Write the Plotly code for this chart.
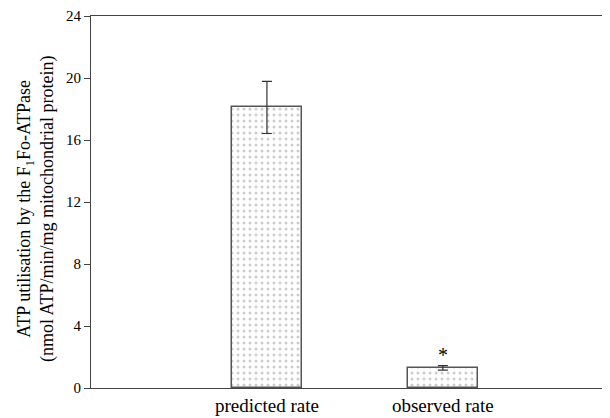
import plotly.graph_objects as go

categories = ["predicted rate", "observed rate"]
positions = [1, 2]
values = [18.1, 1.3]
errors = [1.68, 0.15]
y_ticks = [0, 4, 8, 12, 16, 20, 24]

fig = go.Figure()
fig.add_trace(go.Bar(
    x=positions, y=values, width=0.4,
    marker=dict(color="white",
                line=dict(color="#555555", width=1.5),
                pattern=dict(shape=".", fgcolor="#999999", bgcolor="white", size=6, solidity=0.2)),
    error_y=dict(type="data", array=errors, visible=True, color="#333333", thickness=1.2, width=5),
    showlegend=False,
))

fig.add_annotation(x=2, y=values[1] + errors[1], yshift=-2, text="*", showarrow=False,
                   yanchor="bottom", font=dict(size=20, color="black", family="Liberation Serif"))

fig.add_annotation(xref="paper", yref="paper", x=-0.106, y=0.481, xanchor="center", yanchor="middle",
                   textangle=-90, showarrow=False,
                   text="ATP utilisation by the F<sub>1</sub>Fo-ATPase<br>(nmol ATP/min/mg mitochondrial protein)",
                   font=dict(size=18, color="black", family="Liberation Serif"))

# page body has an 8px margin, so the figure is sized/offset to compensate
fig.update_layout(
    width=602, height=410,
    margin=dict(l=83, r=0, t=8, b=30),
    plot_bgcolor="white", paper_bgcolor="white",
    font=dict(family="Liberation Serif", size=15, color="black"),
    bargap=0,
)
fig.update_xaxes(range=[0, 2.95], tickvals=positions, ticktext=categories, automargin=False,
                 showline=True, linecolor="#444444", linewidth=1, mirror=True,
                 showgrid=False, zeroline=False, ticks="", tickfont=dict(size=19))
fig.update_yaxes(range=[0, 24], tickvals=y_ticks, showline=True, linecolor="#444444", linewidth=1,
                 showgrid=False, zeroline=False, ticks="outside", ticklen=6, tickcolor="#444444",
                 tickfont=dict(size=15), automargin=False)

fig.write_html("out.html")
